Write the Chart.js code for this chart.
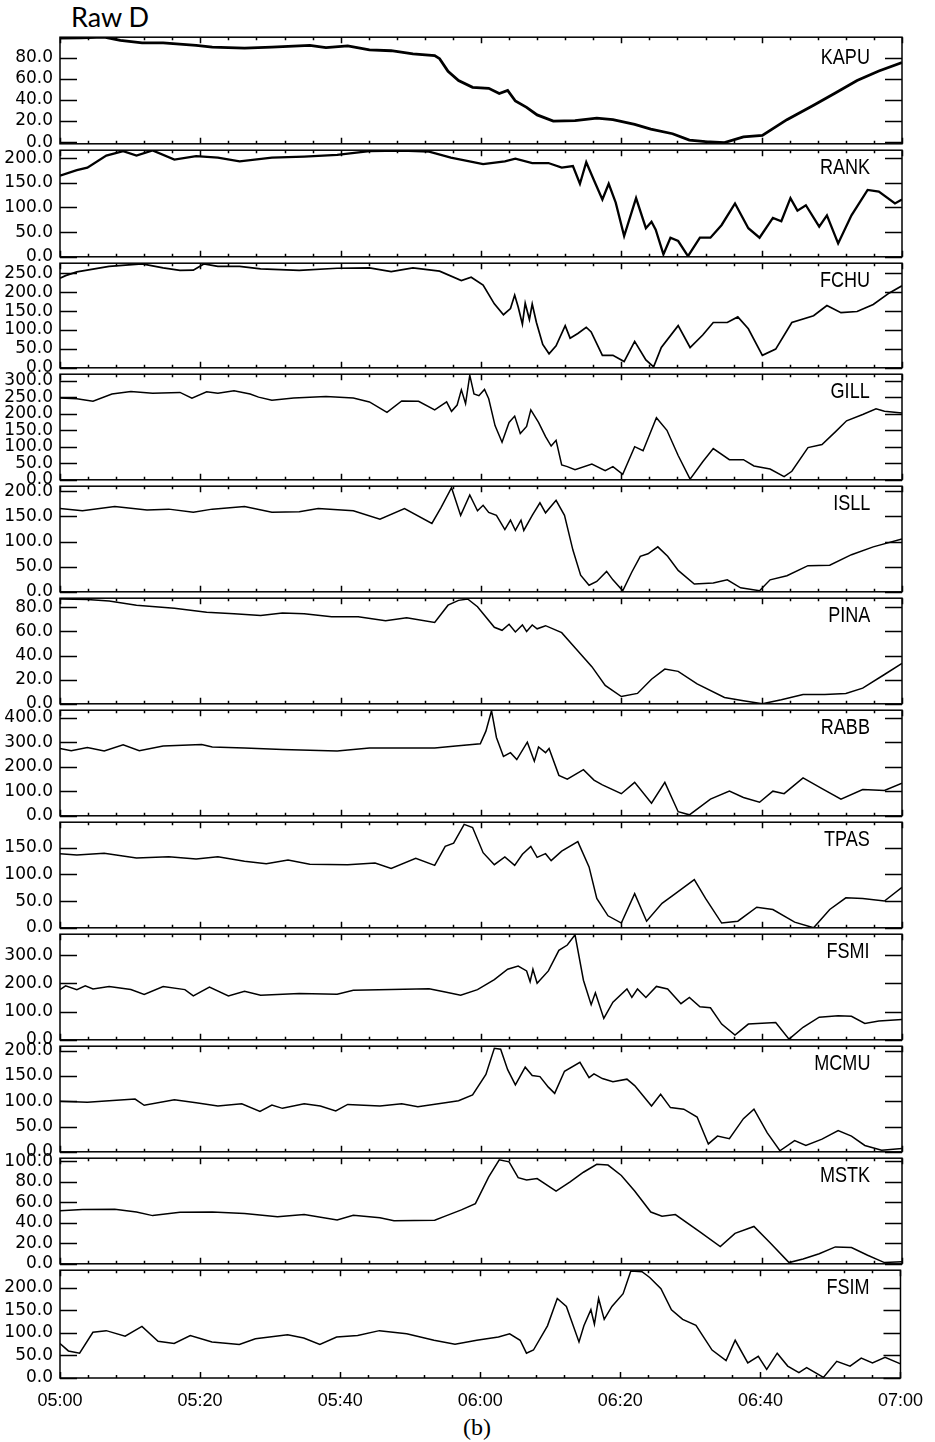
<!DOCTYPE html>
<html>
<head>
<meta charset="utf-8">
<script src="https://cdn.jsdelivr.net/npm/chart.js@4.4.1/dist/chart.umd.min.js"></script>
<style>
  html, body { margin:0; padding:0; background:#fff; }
  #page { position:relative; width:935px; height:1442px; overflow:hidden; }
  #page canvas { position:absolute; left:0; }
  .title { position:absolute; left:71px; top:0px; font-family:Lato, "Open Sans", sans-serif; font-size:27px; line-height:34px; color:#000; }
  .stn { position:absolute; right:65px; font-family:"Liberation Sans", Arimo, sans-serif; font-size:22px; line-height:22px; color:#000; transform:scaleX(0.82); transform-origin:right center; }
  .cap { position:absolute; left:0; width:954px; text-align:center; top:1414px; font-family:"Liberation Serif", serif; font-size:24px; line-height:26px; color:#000; }
</style>
</head>
<body>
<div id="page">
  <div class="title">Raw D</div>
  <div class="cap">(b)</div>
</div>
<script>
// minutes after 05:00, value
const KAPU = [[0,98.4],[3,98.8],[6.3,99.3],[8.6,96.3],[11.7,94],[14.7,94],[19.4,91.6],[21.7,90],[26.3,89],[30.2,90],[35.6,91.6],[37.9,89.5],[41,91],[44.1,87.4],[47.2,86.5],[50.3,83.6],[53.4,82],[54.1,79],[55.3,67],[56.8,58.4],[58.8,51.9],[61.1,51],[62.6,46],[63.8,49],[64.9,39],[66.5,33],[68,25.8],[70.3,19.9],[73.4,20.4],[76.5,22.8],[78.8,21.3],[81.9,16.9],[84.2,12.4],[87.3,8],[89.7,2],[92,0.6],[94.7,-0.3],[97.4,5],[100.1,6.5],[103.6,21.3],[107.4,35],[110.5,46.5],[113.6,58.4],[116.7,67.3],[120,75.3]];
const RANK = [[0,164.5],[2.4,175.5],[3.9,180.6],[6.6,205],[9,214],[10.9,205],[13.2,215.5],[16.3,196.8],[19.4,204],[22.5,201],[25.6,193.5],[30.2,201],[34.8,203],[39.5,206.5],[44.1,214],[48.7,215],[52.6,213],[55.7,201],[60.3,188],[63.4,193.5],[64.9,198.7],[67.3,190],[69.6,190],[71.5,180.6],[73.1,184],[74.1,148],[75,191.6],[76.1,155],[77.3,116],[78.2,148],[79.2,109.7],[80.4,42],[82.1,119],[83.5,58],[84.3,71],[84.9,55],[86,5],[87,38.7],[88.1,32],[89.5,1.3],[91.2,38.7],[92.7,38.7],[94.3,64.5],[96.2,108],[98.1,58],[99.7,38.7],[101.6,78.7],[102.8,72],[104.1,119],[105.1,93.5],[106.3,104.5],[108.2,61],[109.3,84],[110.9,27],[112.8,84],[115.1,135.5],[116.7,132],[119,108],[120,116]];
const FCHU = [[0,237],[0.8,244],[2.4,254],[7,268.6],[11.7,275],[14.7,264.5],[17.1,258],[19,258.7],[20.5,275],[22.5,268.6],[25.6,268.6],[28.6,262],[34.1,258],[39.5,263.6],[44.1,264.5],[47.2,254.5],[50.3,264.5],[54.1,256],[57.2,231],[58.6,240],[60.3,219],[61.9,169.4],[63.2,140.5],[64.2,157],[64.8,192.5],[65.3,161],[65.9,115.7],[66.3,171],[66.9,128],[67.3,169],[67.9,120],[68.8,62],[69.7,37],[70.7,58],[72,111.6],[72.7,78.5],[73.8,91],[75,107.4],[75.7,95],[77.3,33],[78.8,33],[80.4,16.5],[81.9,70],[83.5,20.7],[84.6,2.5],[85.7,53.7],[88.1,111.6],[89.8,53.7],[91.6,86.8],[93.1,120],[95.1,120],[96.6,134.7],[98.1,103.3],[100.1,33],[102,49.6],[104.3,120],[107.4,138],[109.3,165],[111.3,146],[113.6,149],[115.9,167.8],[118.2,198.3],[120,217]];
const GILL = [[0,247.6],[2.4,245.7],[4.7,238],[7.4,260],[10.1,267.7],[13.2,262],[17.1,264.8],[18.8,247.6],[20.9,266.7],[22.5,262],[24.8,269.6],[27.1,260],[28.3,250.5],[30.2,241],[33.3,247.6],[37.9,252.4],[41.8,247.6],[44.1,236],[46.6,204.6],[48.7,239],[51.1,238],[53.4,212],[55.1,236],[55.8,207.5],[56.6,226.6],[57.2,272.5],[57.8,231],[58.4,317],[59,260],[59.7,255],[60.5,274],[61.1,245.7],[62,164.4],[63,113.8],[64,174],[64.8,193],[65.6,140.5],[66.5,161.6],[67.1,212],[68.2,174],[69.2,131],[70,102.3],[70.7,119.5],[71.5,45],[72.3,40],[73.4,30.6],[75.8,47.8],[77.7,27.7],[78.8,40],[80.2,16.3],[81.9,100.4],[83.1,88],[85,188.3],[86.5,150],[88.1,73.6],[89.8,2],[91.6,54.5],[93.1,94.6],[95.4,61],[97.4,61],[98.9,42],[101.2,32.5],[103.2,9.6],[104.3,25.8],[106.6,97.5],[108.6,107],[110.5,145.3],[112.1,178.8],[114.4,198],[116.3,215],[117.5,207.5],[120,202.7]];
const ISLL = [[0,165.6],[3.2,161],[7.8,169.4],[12.4,162.5],[15.5,164.4],[19,158],[21.7,164.4],[26.3,169.4],[30.2,158],[34.1,159.4],[36.8,165.6],[41.8,161],[45.6,144.4],[49.1,165.6],[53,136],[54.3,167.5],[55.8,207],[57.1,152],[58.4,192.5],[59.5,161],[60.3,172],[61.1,158],[62.2,152],[63.4,123.8],[64.2,142.5],[64.9,122],[65.7,142.5],[66.1,122],[67.3,152],[68.4,177],[69.2,157],[70.7,182],[71.9,152],[73.1,83],[74.2,33],[75.4,13],[76.5,20.6],[77.9,40.6],[78.8,23.8],[80.2,2],[81.5,39.4],[82.7,70.6],[83.8,75.6],[85.2,89.4],[86.6,70.6],[88.1,42.5],[90.4,15.6],[93.1,17.5],[95.1,23.8],[97,8],[99.7,2],[101.2,23.8],[103.6,32],[106.6,52],[109.7,53],[112.8,73.8],[115.9,89.4],[120,105]];
const PINA = [[0,87],[3.9,86.5],[7,85.2],[10.9,81.8],[16.3,79.2],[20.9,76],[24.8,74.8],[28.6,73.2],[31.7,75.3],[34.8,74.8],[38.7,72.2],[42.5,72.2],[46.4,68.8],[49.4,71.4],[53.4,67.5],[55.3,81.8],[56.8,85.8],[58.1,87],[59.5,80.5],[61.9,63.5],[63,61],[64,66],[64.9,59.6],[65.9,65.4],[66.5,60],[67.3,65.4],[68,62.2],[69.2,64.8],[71.5,59],[73.4,46.5],[75.8,30.8],[77.7,15.2],[80,6],[82.3,8.6],[84.3,20.4],[86.2,28.8],[88.1,26.9],[90.8,16.5],[94.7,5.2],[97.4,2.6],[100.1,0],[102.8,3.4],[105.9,7.8],[109,7.8],[112,8.6],[114.4,13],[117.5,24.3],[120,33.5]];
const RABB = [[0,274],[1.6,265],[3.9,278],[6.3,263.7],[9,289.4],[11.3,265],[14.7,284],[20.2,290.7],[21.7,280.4],[26.3,276.5],[31.7,270],[39.5,263.7],[44.1,276.5],[49.5,276.5],[53.4,276.5],[56.4,284],[59.9,293],[60.7,344.7],[61.5,428],[62.2,319],[63.2,241.8],[64.2,257.2],[65.1,229],[66.6,299.7],[67.6,222.5],[68.2,280.4],[69.2,257.2],[69.7,274],[71.1,164.6],[72.3,149.2],[74.6,187.8],[76.1,145.3],[77.3,126],[80,90],[81.9,136.3],[84.3,51.4],[86.2,136.3],[88.1,16.7],[89.7,3.9],[92.7,68],[95.4,100.3],[97.4,74.6],[99.7,55.3],[101.6,100.3],[103.2,90],[105.9,154.3],[108.6,110.6],[111.3,68],[114.4,106.8],[117.5,103],[120,132.5]];
const TPAS = [[0,139],[2.4,136.7],[6.3,139.6],[10.9,130.8],[15.5,133],[19.4,129],[22.5,133],[26.3,124.9],[29.4,120],[32.5,127.2],[35.6,119],[41,118.3],[44.9,121.3],[47.2,111.2],[50.7,130.2],[53.4,117],[54.9,152.7],[56.1,158.6],[57.6,194],[58.8,188],[60.3,140.8],[61.9,118.3],[63.4,133],[64.8,117],[65.9,137.8],[67.1,152.7],[68,132],[69.2,139],[70,126],[71.5,143.8],[73.8,161.5],[75.4,114.2],[76.5,55],[78.1,22.5],[80,8.9],[81.9,64],[83.6,12.4],[85.8,46],[87.7,64],[90.4,90.5],[92,55],[94.3,8.9],[96.6,12.4],[99.3,38.5],[101.6,34.3],[104.7,10.7],[107.4,0],[109.7,34.3],[112,56.2],[114.4,55],[117.5,50.3],[120,75.7]];
const FSMI = [[0,177.8],[0.8,191],[2.4,177.8],[3.6,191],[4.7,180],[7,189],[10.1,177.8],[12,161],[14.7,189],[17.8,177.8],[19,155.6],[21.3,186.7],[24,155.6],[26.3,172],[28.6,157.8],[34.1,164.4],[39.5,161],[41.8,175.6],[47.2,177.8],[52.6,181],[54.9,169],[57.1,157.8],[59.5,177.8],[61.9,213],[63.8,250],[65.3,261],[66.5,244],[67,205.6],[67.4,250],[68,200],[69.6,244],[71.1,316.7],[72.3,335.6],[73.4,372],[74.6,211],[75.7,124.4],[76.3,166.7],[77.5,75.6],[78.8,133.3],[80.8,180],[81.5,150],[82.3,180],[83.5,150],[85,189],[86.6,180],[88.5,127.8],[89.7,150],[91.2,116.7],[92.7,113.3],[94.3,55.6],[96.2,16.7],[98.1,55.6],[102,61],[103.9,2.2],[105.9,44.4],[108.2,80],[110.9,85.6],[112.8,83.3],[114.7,57.8],[116.7,66.7],[120,72.2]];
const MCMU = [[0,100],[3.9,98],[7,101],[10.7,104.4],[12,92],[16.3,103],[19.4,97],[22.5,90.6],[25.9,95],[28.5,80],[30.2,92.5],[31.7,86],[34.8,95],[37.1,90.6],[39.3,81],[41,93.8],[45.6,90.6],[48.7,95],[51,89.4],[54.9,97],[56.8,101],[58.8,112.5],[60.7,153],[61.9,205],[62.8,203],[63.8,162.5],[64.9,132.5],[66.3,167.5],[67.3,151],[68.4,148.8],[69.6,128],[70.5,115.6],[71.9,159.4],[74.1,177],[75.4,147],[76.1,154.4],[77.3,145],[78.8,138.8],[80.8,143.8],[81.9,131],[84.3,90.6],[85.6,113.8],[87,87.5],[88.9,84.4],[90.8,68.8],[92.4,15.6],[93.7,31],[95.4,26],[97.4,65.6],[98.9,84.4],[100.8,37.5],[102.6,2],[104.7,22],[106.3,12.5],[108.6,25],[110.9,42],[112.8,31],[114.7,12.5],[117.1,3],[120,6.3]];
const MSTK = [[0,51.7],[3.2,52.9],[7.8,53.2],[10.9,50.5],[13.2,47],[17.1,50.2],[21.7,50.5],[26.3,49],[31,45.9],[34.8,48],[39.5,42.8],[41.8,47.4],[45.6,45],[47.6,41.9],[53.4,42.5],[54.9,46.5],[57.2,52.6],[59.2,58.7],[61.1,84.7],[62.6,101.5],[64,99.4],[65.3,84],[66.5,81.7],[68,83.2],[70.7,71],[72.7,80],[74.6,89.3],[76.5,97],[78.1,96.3],[80,86.2],[81.9,71],[84.2,50.5],[85.8,46.5],[87.7,48],[91.2,31.2],[94.1,16.8],[96.2,29.7],[98.9,36.4],[101.2,20.5],[103.9,1.2],[105.9,4.6],[108.2,9.8],[110.5,16.5],[112.8,15.9],[115.1,8.3],[117.5,1.2],[120,2.1]];
const FSIM = [[0,76.4],[1.2,60],[2.8,55],[4.7,101.4],[6.6,105],[9.3,92.9],[11.7,114.3],[14,81.4],[16.3,76.4],[18.6,94.3],[21.7,80],[25.6,74.3],[27.9,87],[32.5,95.7],[34.8,88.6],[37.1,74.3],[39.5,90.7],[42.5,94.3],[45.6,105],[49.5,97.9],[53.4,83.6],[56.4,75],[59.5,83.6],[62.6,90.7],[64.2,97.9],[65.7,83.6],[66.6,55],[67.6,62],[69.6,115.7],[71,176.4],[72.3,158.6],[74.1,80],[74.8,115.7],[75.8,151.4],[76.3,119.3],[76.9,176.4],[77.7,130],[78.8,158.6],[80.4,187],[81.5,237],[83.1,235.7],[84.2,222.9],[85.8,197.9],[87.3,151.4],[88.9,130],[90.8,117],[93.1,62],[95.1,38.6],[96.4,83.6],[98.2,33.6],[99.7,47.9],[100.9,19.3],[102.4,55],[103.9,26.4],[105.5,12.1],[106.6,22.9],[109,1.4],[110.9,37],[112.8,26.4],[114.4,44.3],[116,33.6],[117.8,45.7],[120,31.4]];

const stations = ['KAPU','RANK','FCHU','GILL','ISLL','PINA','RABB','TPAS','FSMI','MCMU','MSTK','FSIM'];
const series = [KAPU, RANK, FCHU, GILL, ISLL, PINA, RABB, TPAS, FSMI, MCMU, MSTK, FSIM];
const yMin = [-1.5, 0, 0, 0, 0, 0, 0, 0, 0, 0, 0, 0];
const yMax = [99.3, 216, 277, 320, 210, 87.6, 430, 198, 374, 209, 103, 239];
const yTicks = [
  [0,20,40,60,80],
  [0,50,100,150,200],
  [0,50,100,150,200,250],
  [0,50,100,150,200,250,300],
  [0,50,100,150,200],
  [0,20,40,60,80],
  [0,100,200,300,400],
  [0,50,100,150],
  [0,100,200,300],
  [0,50,100,150,200],
  [0,20,40,60,80,100],
  [0,50,100,150,200]
];
const xTickLabels = ['05:00','05:20','05:40','06:00','06:20','06:40','07:00'];

// layout
const panelTops = [34,147,260,371,483,595,707,819,931,1043,1155,1267,1378];
const PAD = 14, LEFT = 60, RIGHT = 902, W = 935, XAXIS_H = 44;
const lineWidths = [2.8, 2.3, 1.7, 1.5, 1.5, 1.5, 1.5, 1.5, 1.5, 1.5, 1.5, 1.5];
const tickFont = { family: 'DejaVu Sans', size: 17 };
const xFont = { family: '"Liberation Sans", Arimo, sans-serif', size: 18 };

const frame = {
  id: 'frame',
  afterDraw(chart){
    const ctx = chart.ctx, a = chart.chartArea, x = chart.scales.x, y = chart.scales.y;
    ctx.save();
    ctx.strokeStyle = '#000';
    ctx.lineWidth = 1.5;
    ctx.strokeRect(a.left, a.top, a.right - a.left, a.bottom - a.top);
    ctx.beginPath();
    y.ticks.forEach(t => {
      const py = Math.round(y.getPixelForValue(t.value)) + 0.5;
      ctx.moveTo(a.left, py); ctx.lineTo(a.left + 17, py);
      ctx.moveTo(a.right, py); ctx.lineTo(a.right - 17, py);
    });
    for(let m = 0; m <= 120; m += 4){
      const px = Math.round(x.getPixelForValue(m)) + 0.5;
      const len = m % 20 === 0 ? 6 : 3;
      ctx.moveTo(px, a.top); ctx.lineTo(px, a.top + len);
      ctx.moveTo(px, a.bottom); ctx.lineTo(px, a.bottom - len);
    }
    ctx.stroke();
    ctx.restore();
  }
};

const page = document.getElementById('page');

stations.forEach((name, i) => {
  const last = i === stations.length - 1;
  const top = panelTops[i], h = panelTops[i+1] - top;
  const cv = document.createElement('canvas');
  const ch = PAD + h + (last ? XAXIS_H : PAD);
  cv.width = W; cv.height = ch;
  cv.style.width = W + 'px'; cv.style.height = ch + 'px';
  cv.style.top = (top - PAD) + 'px';
  page.appendChild(cv);

  const lbl = document.createElement('div');
  lbl.className = 'stn';
  lbl.textContent = name;
  lbl.style.top = (top + (i === 0 ? 12 : 9)) + 'px';
  page.appendChild(lbl);

  new Chart(cv, {
    type: 'line',
    data: {
      datasets: [{
        label: name,
        data: series[i].map(p => ({ x: p[0], y: p[1] })),
        borderColor: '#000',
        borderWidth: lineWidths[i],
        pointRadius: 0,
        tension: 0,
        fill: false
      }]
    },
    options: {
      responsive: false,
      animation: false,
      events: [],
      layout: { padding: { top: PAD, bottom: last ? 0 : PAD, left: 0, right: W - RIGHT } },
      plugins: { legend: { display: false }, tooltip: { enabled: false } },
      scales: {
        x: {
          type: 'linear', min: 0, max: 120, display: last,
          afterFit: s => { if (last) s.height = XAXIS_H; },
          grid: { display: false, drawTicks: false },
          border: { display: false },
          ticks: { stepSize: 20, color: '#000', font: xFont, padding: 12, maxRotation: 0, autoSkip: false,
                   callback: v => xTickLabels[Math.round(v / 20)] }
        },
        y: {
          type: 'linear', min: yMin[i], max: yMax[i],
          afterFit: s => { s.width = LEFT; },
          afterBuildTicks: s => { s.ticks = yTicks[i].map(v => ({ value: v })); },
          grid: { display: false, drawTicks: false },
          border: { display: false },
          ticks: { color: '#000', font: tickFont, padding: 7, autoSkip: false, callback: v => v.toFixed(1) }
        }
      }
    },
    plugins: [frame]
  });
});
</script>
</body>
</html>
